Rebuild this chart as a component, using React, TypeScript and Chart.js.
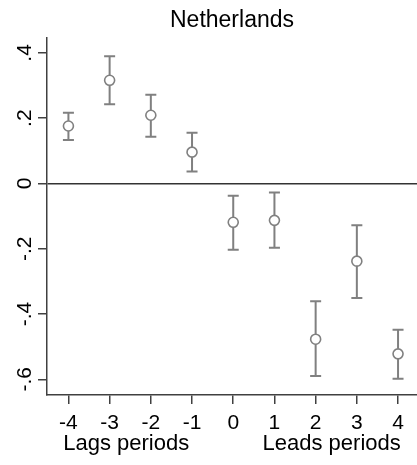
import React, { useEffect, useRef } from "react";
import { Chart, registerables } from "chart.js";

Chart.register(...registerables);

const periods = [-4, -3, -2, -1, 0, 1, 2, 3, 4];
const coef = [0.176, 0.316, 0.209, 0.096, -0.119, -0.113, -0.477, -0.238, -0.522];
const ciHigh = [0.217, 0.39, 0.272, 0.155, -0.038, -0.028, -0.361, -0.128, -0.448];
const ciLow = [0.133, 0.243, 0.143, 0.037, -0.203, -0.197, -0.59, -0.351, -0.598];
const yTickValues = [0.4, 0.2, 0, -0.2, -0.4, -0.6];
const yTickLabels = [".4", ".2", "0", "-.2", "-.4", "-.6"];
const xTickLabels = ["-4", "-3", "-2", "-1", "0", "1", "2", "3", "4"];
const chartTitle = "Netherlands";
const xTitleParts = ["Lags periods", "Leads periods"];

const FONT = '"Liberation Sans", Arial, sans-serif';
const GRAY = "#808080";
const AXIS = "#404040";

const errorBars = {
  id: "errorBars",
  beforeDatasetsDraw(chart: any) {
    const { ctx, scales } = chart;
    const xs = scales.x;
    const ys = scales.y;
    ctx.save();
    ctx.strokeStyle = GRAY;
    ctx.lineWidth = 2;
    periods.forEach((p, i) => {
      const x = xs.getPixelForValue(p);
      const yh = ys.getPixelForValue(ciHigh[i]);
      const yl = ys.getPixelForValue(ciLow[i]);
      ctx.beginPath();
      ctx.moveTo(x, yh);
      ctx.lineTo(x, yl);
      ctx.moveTo(x - 5.5, yh);
      ctx.lineTo(x + 5.5, yh);
      ctx.moveTo(x - 5.5, yl);
      ctx.lineTo(x + 5.5, yl);
      ctx.stroke();
    });
    ctx.restore();
  },
};

const labelsPlugin = {
  id: "labelsPlugin",
  afterDraw(chart: any) {
    const { ctx, scales, chartArea } = chart;
    const xs = scales.x;
    const ys = scales.y;
    ctx.save();
    ctx.fillStyle = "#000";
    ctx.font = `23px ${FONT}`;
    ctx.textAlign = "center";
    ctx.textBaseline = "alphabetic";
    ctx.fillText(chartTitle, (chartArea.left + chartArea.right) / 2, 27);
    ctx.font = `21px ${FONT}`;
    periods.forEach((p, i) => {
      ctx.fillText(xTickLabels[i], xs.getPixelForValue(p), chartArea.bottom + 34);
    });
    yTickValues.forEach((v, i) => {
      const y = ys.getPixelForValue(v);
      ctx.save();
      ctx.translate(chartArea.left - 16, y);
      ctx.rotate(-Math.PI / 2);
      ctx.textAlign = "center";
      ctx.textBaseline = "alphabetic";
      ctx.fillText(yTickLabels[i], 0, 0);
      ctx.restore();
    });
    ctx.restore();
  },
};

export default function App() {
  const ref = useRef<HTMLCanvasElement | null>(null);
  useEffect(() => {
    if (!ref.current) return;
    const chart = new Chart(ref.current, {
      type: "scatter",
      data: {
        datasets: [
          {
            data: periods.map((p, i) => ({ x: p, y: coef[i] })),
            pointRadius: 5,
            pointBorderWidth: 1.6,
            pointBorderColor: GRAY,
            pointBackgroundColor: "#ffffff",
            showLine: false,
          },
        ],
      },
      options: {
        animation: false,
        responsive: false,
        layout: { autoPadding: false, padding: { top: 38, left: 0, right: 0, bottom: 0 } },
        plugins: { legend: { display: false }, tooltip: { enabled: false }, title: { display: false } },
        scales: {
          x: {
            type: "linear",
            min: -4.52,
            max: 4.46,
            afterBuildTicks: (s: any) => {
              s.ticks = periods.map((v) => ({ value: v }));
            },
            afterFit: (s: any) => {
              s.height = 70;
            },
            ticks: { display: false },
            grid: { drawOnChartArea: false, drawTicks: true, tickLength: 9, tickColor: AXIS, lineWidth: 1.5 },
            border: { display: true, color: AXIS, width: 1.5 },
            title: {
              display: true,
              text: xTitleParts.join("            "),
              font: { family: FONT, size: 22 },
              color: "#000",
              padding: { top: 0, bottom: 8 },
            },
          },
          y: {
            type: "linear",
            min: -0.648,
            max: 0.4456,
            afterBuildTicks: (s: any) => {
              s.ticks = yTickValues.map((v) => ({ value: v }));
            },
            afterFit: (s: any) => {
              s.width = 47;
            },
            ticks: { display: false },
            grid: {
              drawOnChartArea: true,
              drawTicks: true,
              tickLength: 9,
              tickColor: AXIS,
              lineWidth: 1.5,
              color: (c: any) => (c.tick && c.tick.value === 0 ? "#333333" : "rgba(0,0,0,0)"),
            },
            border: { display: true, color: AXIS, width: 1.5 },
          },
        },
      },
      plugins: [errorBars, labelsPlugin],
    });
    return () => chart.destroy();
  }, []);
  return (
    <div style={{ position: "absolute", left: 0, top: 0, width: 417, height: 465, background: "#fff" }}>
      <canvas ref={ref} width={417} height={465} />
    </div>
  );
}
